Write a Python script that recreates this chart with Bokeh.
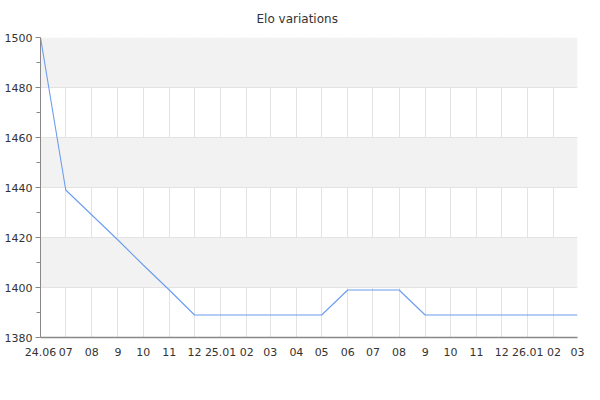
from datetime import datetime
from bokeh.plotting import figure
from bokeh.models import FixedTicker, Range1d, ColumnDataSource, Title
from bokeh.embed import file_html
from bokeh.resources import INLINE

# ---- data ----
months = ["2024-06", "2024-07", "2024-08", "2024-09", "2024-10", "2024-11",
          "2024-12", "2025-01", "2025-02", "2025-03", "2025-04", "2025-05",
          "2025-06", "2025-07", "2025-08", "2025-09", "2025-10", "2025-11",
          "2025-12", "2026-01", "2026-02", "2026-03"]
elo = [1500, 1439, 1429, 1419, 1409, 1399, 1389, 1389, 1389, 1389, 1389, 1389,
       1399, 1399, 1399, 1389, 1389, 1389, 1389, 1389, 1389, 1389]
tick_labels = ["24.06", "07", "08", "9", "10", "11", "12", "25.01", "02", "03",
               "04", "05", "06", "07", "08", "9", "10", "11", "12", "26.01",
               "02", "03"]
y_ticks = [1380, 1400, 1420, 1440, 1460, 1480, 1500]
y_minor = [1390, 1410, 1430, 1450, 1470, 1490]


def to_ms(s):
    return (datetime.strptime(s + "-01", "%Y-%m-%d") - datetime(1970, 1, 1)).total_seconds() * 1000.0


xs = [to_ms(m) for m in months]
src = ColumnDataSource(dict(x=xs, y=elo))

FONT = "DejaVu Sans"

p = figure(width=584, height=384, output_backend="svg", toolbar_location=None,
           x_range=Range1d(xs[0], xs[-1]), y_range=Range1d(1380, 1500),
           min_border_left=40, min_border_right=7, min_border_top=37,
           min_border_bottom=47)
p.title = Title(text="Elo variations", align="left", offset=216,
                vertical_align="top",
                text_font=FONT, text_font_size="12px", text_font_style="normal",
                text_color="#333333", standoff=19)

p.outline_line_color = None
p.background_fill_color = "white"

p.line("x", "y", source=src, line_color="#6a9cf0", line_width=1.1)

# x axis
p.xaxis.ticker = FixedTicker(ticks=xs)
p.xaxis.major_label_overrides = {x: lab for x, lab in zip(xs, tick_labels)}
p.xaxis.major_tick_out = 0
p.xaxis.major_tick_in = 0
p.xaxis.minor_tick_out = 0
p.xaxis.minor_tick_in = 0
p.xaxis.axis_line_color = "#888888"
p.xaxis.axis_line_width = 1.5
p.xaxis.major_label_text_font = FONT
p.xaxis.major_label_text_font_size = "11px"
p.xaxis.major_label_text_color = "#333333"
p.xaxis.major_label_standoff = 10

# y axis
p.yaxis.ticker = FixedTicker(ticks=y_ticks, minor_ticks=y_minor)
p.yaxis.major_tick_out = 5
p.yaxis.major_tick_in = 0
p.yaxis.minor_tick_out = 4
p.yaxis.minor_tick_in = 0
p.yaxis.axis_line_color = "#888888"
p.yaxis.major_tick_line_color = "#888888"
p.yaxis.minor_tick_line_color = "#888888"
p.yaxis.major_label_text_font = FONT
p.yaxis.major_label_text_font_size = "11px"
p.yaxis.major_label_text_color = "#333333"
p.yaxis.major_label_standoff = 3

# grids
p.xgrid.ticker = FixedTicker(ticks=xs)
p.xgrid.grid_line_color = "#e3e3e3"
p.ygrid.ticker = FixedTicker(ticks=y_ticks)
p.ygrid.grid_line_color = "#e3e3e3"
p.ygrid.band_fill_color = "#f2f2f2"
p.ygrid.band_fill_alpha = 1.0

open("out.html", "w").write(file_html(p, INLINE))
